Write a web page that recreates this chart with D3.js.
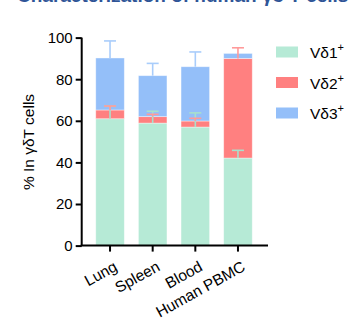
<!DOCTYPE html>
<html><head><meta charset="utf-8">
<script src="https://cdn.jsdelivr.net/npm/d3@7"></script>
<style>body{margin:0;background:#fff}svg{display:block}</style>
</head><body>
<svg id="c" width="363" height="321"></svg>
<script>
const categories = ["Lung", "Spleen", "Blood", "Human PBMC"];
const seriesNames = ["Vδ1", "Vδ2", "Vδ3"];
const vd1 = [61.0, 58.9, 57.0, 42.1];
const vd2 = [4.2, 3.1, 2.9, 47.9];
const vd3 = [25.0, 19.7, 26.1, 2.4];
const vd1Err = [6.0, 5.7, 6.8, 3.7];
const vd2Err = [1.9, 1.1, 1.3, 5.1];
const vd3Err = [8.2, 5.9, 7.1, 0];
const yTicks = [0, 20, 40, 60, 80, 100];
const colors = ["#b6ead6", "#ff8080", "#94bff9"];
const errColors = ["#a8e0cc", "#ff9a9a", "#a9cdfb"];

const svg = d3.select("#c");
// title (cut off at top, as in the reference)
svg.append("text").attr("x", 17).attr("y", 1.5)
  .attr("font-family", "Liberation Sans, Arial, sans-serif").attr("font-size", 19).attr("font-weight", "bold")
  .attr("fill", "#2f5597").text("Characterization of human γδ T cells");

const x = d3.scaleBand().domain(categories).range([88.5, 259.5]).paddingInner(0.33).paddingOuter(0.17);
const y = d3.scaleLinear().domain([0, 100]).range([245.6, 37.6]);

const series = [vd1, vd2, vd3];
const errs = [vd1Err, vd2Err, vd3Err];
const g = svg.append("g");
categories.forEach((c, i) => {
  let base = 0;
  series.forEach((s, k) => {
    const v = s[i];
    g.append("rect").attr("x", x(c)).attr("width", x.bandwidth())
      .attr("y", y(base + v)).attr("height", y(base) - y(base + v))
      .attr("fill", colors[k]).attr("stroke", "#ffffff").attr("stroke-opacity", 0.5).attr("stroke-width", 0.8);
    base += v;
  });
});
// error bars
categories.forEach((c, i) => {
  let base = 0;
  series.forEach((s, k) => {
    base += s[i];
    const e = errs[k][i];
    if (e > 0) {
      const cx = x(c) + x.bandwidth() / 2;
      g.append("line").attr("x1", cx).attr("x2", cx).attr("y1", y(base)).attr("y2", y(base + e))
        .attr("stroke", errColors[k]).attr("stroke-width", 1.6);
      g.append("line").attr("x1", cx - 6).attr("x2", cx + 6).attr("y1", y(base + e)).attr("y2", y(base + e))
        .attr("stroke", errColors[k]).attr("stroke-width", 1.6);
    }
  });
});

// axes
const yAxis = svg.append("g").attr("transform", "translate(81.7,0)")
  .call(d3.axisLeft(y).tickValues(yTicks).tickSize(6).tickPadding(3));
yAxis.select(".domain").attr("stroke", "#000").attr("stroke-width", 2).attr("d", `M0,${y(100)}V${y(0)}`);
yAxis.selectAll(".tick line").attr("stroke", "#000").attr("stroke-width", 2);
yAxis.selectAll("text").attr("font-family", "Liberation Sans, Arial, sans-serif").attr("font-size", 15).attr("fill", "#000");

const xAxis = svg.append("g").attr("transform", `translate(0,${y(0)})`)
  .call(d3.axisBottom(x).tickSize(6).tickPadding(6));
xAxis.select(".domain").attr("stroke", "#000").attr("stroke-width", 2).attr("d", `M80.7,0H268`);
xAxis.selectAll(".tick line").attr("stroke", "#000").attr("stroke-width", 2);
xAxis.selectAll("text").attr("font-family", "Liberation Sans, Arial, sans-serif").attr("font-size", 15.5).attr("fill", "#000")
  .attr("text-anchor", "end").attr("dy", "0.2em").attr("transform", "translate(1,11) rotate(-29)");

svg.append("text").attr("transform", "translate(34,142) rotate(-90)")
  .attr("text-anchor", "middle").attr("font-family", "Liberation Sans, Arial, sans-serif").attr("font-size", 15.5)
  .text("% In γδT cells");

// legend
const leg = svg.append("g");
seriesNames.forEach((n, k) => {
  const yy = 52 + k * 30.5;
  leg.append("rect").attr("x", 276).attr("y", yy - 5.5).attr("width", 22).attr("height", 11).attr("fill", colors[k]);
  const t = leg.append("text").attr("x", 310).attr("y", yy + 6).attr("font-family", "Liberation Sans, Arial, sans-serif")
    .attr("font-size", 15.5).attr("fill", "#000").text(n);
  t.append("tspan").attr("dy", -7).attr("font-size", 11).text("+");
});
</script>
</body></html>
